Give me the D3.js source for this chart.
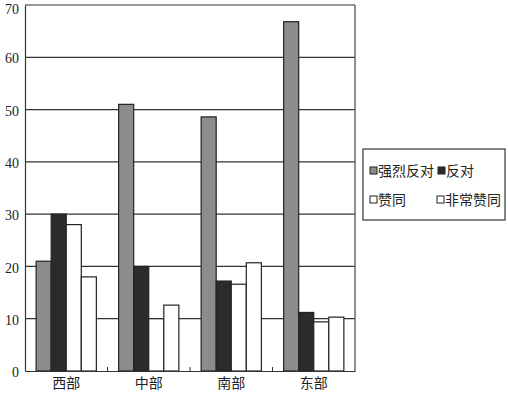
<!DOCTYPE html>
<html>
<head>
<meta charset="utf-8">
<script src="https://cdn.jsdelivr.net/npm/d3@7"></script>
<style>
  body { margin: 0; background: #fff; }
  svg { display: block; }
</style>
</head>
<body>
<svg id="chart"></svg>
<script>
// values
const regions = ["西部", "中部", "南部", "东部"];
const seriesNames = ["强烈反对", "反对", "赞同", "非常赞同"];
const strongOppose = [21, 51, 48.6, 66.8];
const oppose = [30, 20, 17.2, 11.2];
const agree = [28, 10, 16.6, 9.4];
const strongAgree = [18, 12.6, 20.7, 10.3];
const yTicks = [0, 10, 20, 30, 40, 50, 60, 70];

const allSeries = [strongOppose, oppose, agree, strongAgree];
const fills = ["#8c8c8c", "#2b2b2b", "#ffffff", "#ffffff"];

const W = 508, H = 393;
const plotL = 25, plotR = 355, plotT = 5, plotB = 371;

const svg = d3.select("#chart").attr("width", W).attr("height", H);

const x0 = d3.scaleBand().domain(regions).range([plotL, plotR])
  .paddingInner(0.27).paddingOuter(0.135);
const x1 = d3.scaleBand().domain(seriesNames).range([0, x0.bandwidth()]);
const y = d3.scaleLinear().domain([0, 70]).range([plotB, plotT]);

// gridlines
svg.append("g")
  .selectAll("line")
  .data(yTicks.filter(d => d > 0))
  .join("line")
  .attr("x1", plotL).attr("x2", plotR)
  .attr("y1", d => y(d)).attr("y2", d => y(d))
  .attr("stroke", "#333").attr("stroke-width", 1.2);

// right border
svg.append("line")
  .attr("x1", plotR).attr("x2", plotR).attr("y1", plotT).attr("y2", plotB)
  .attr("stroke", "#444").attr("stroke-width", 1.2);

// bars
const rows = [];
regions.forEach((r, i) => {
  seriesNames.forEach((s, j) => rows.push({ region: r, series: s, j: j, value: allSeries[j][i] }));
});

svg.append("g")
  .selectAll("rect")
  .data(rows)
  .join("rect")
  .attr("x", d => x0(d.region) + x1(d.series))
  .attr("y", d => y(d.value))
  .attr("width", x1.bandwidth())
  .attr("height", d => y(0) - y(d.value))
  .attr("fill", d => fills[d.j])
  .attr("stroke", "#222")
  .attr("stroke-width", 1.2);

// y axis
const yAxis = svg.append("g")
  .attr("transform", "translate(" + plotL + ",0)")
  .call(d3.axisLeft(y).tickValues(yTicks).tickSize(0).tickPadding(6));
yAxis.select(".domain").attr("stroke", "#333").attr("stroke-width", 1.2);
yAxis.selectAll("text")
  .attr("font-family", "'Liberation Serif', serif")
  .attr("font-size", 14).attr("fill", "#222")
  .attr("dy", d => d === 70 ? "0.6em" : "0.4em");

// x axis
const xAxis = svg.append("g")
  .attr("transform", "translate(0," + plotB + ")")
  .call(d3.axisBottom(x0).tickSize(0).tickPadding(7));
xAxis.select(".domain").attr("stroke", "#333").attr("stroke-width", 1.2);
xAxis.selectAll("text")
  .attr("font-family", "'Noto Sans CJK SC', sans-serif")
  .attr("font-size", 14).attr("fill", "#222");

// small ticks between groups
const step = x0.step();
svg.append("g")
  .selectAll("line")
  .data(regions.slice(1))
  .join("line")
  .attr("x1", d => x0(d) - step * x0.paddingInner() / 2)
  .attr("x2", d => x0(d) - step * x0.paddingInner() / 2)
  .attr("y1", plotB).attr("y2", plotB - 4)
  .attr("stroke", "#333");

// legend
const lg = svg.append("g");
lg.append("rect")
  .attr("x", 363).attr("y", 149).attr("width", 142).attr("height", 71)
  .attr("fill", "#fff").attr("stroke", "#333").attr("stroke-width", 1.2);

const legPos = [[370, 171], [438, 171], [370, 200], [437, 200]];
const items = lg.selectAll("g.item")
  .data(seriesNames)
  .join("g")
  .attr("class", "item")
  .attr("transform", (d, i) => "translate(" + legPos[i][0] + "," + legPos[i][1] + ")");
items.append("rect")
  .attr("x", 0).attr("y", -4).attr("width", 7).attr("height", 7)
  .attr("fill", (d, i) => fills[i])
  .attr("stroke", "#222").attr("stroke-width", 1);
items.append("text")
  .attr("x", 8).attr("y", 0).attr("dy", "0.35em")
  .attr("font-family", "'Noto Sans CJK SC', sans-serif")
  .attr("font-size", 14).attr("fill", "#222")
  .text(d => d);
</script>
</body>
</html>
